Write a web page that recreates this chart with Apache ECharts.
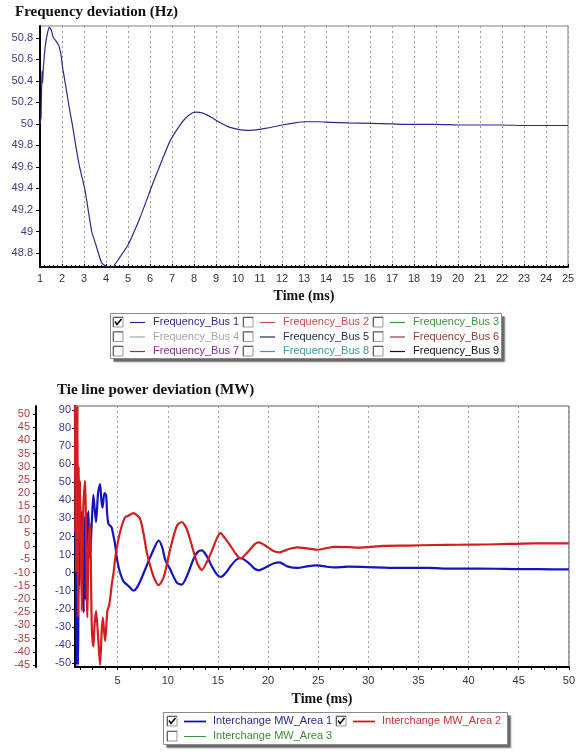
<!DOCTYPE html>
<html><head><meta charset="utf-8">
<script src="https://cdn.jsdelivr.net/npm/echarts@6/dist/echarts.min.js"></script>
<style>html,body{margin:0;padding:0;background:#fff}#c{width:578px;height:755px}</style>
</head><body><div id="c"></div>
<script>
// ---------- data ----------
const freqTime = [1.0,1.045,1.09,1.12,1.15,1.27,1.42,1.5,1.61,1.73,1.85,1.95,2.03,2.18,2.33,2.49,2.64,2.8,3.05,3.35,3.58,3.8,4.03,4.18,4.33,4.56,5.01,5.55,6.08,6.6,6.91,7.3,7.6,7.9,8.1,8.4,8.8,9.2,9.6,10.0,10.4,10.8,11.3,12.0,12.6,13.1,13.6,14.2,15.0,16.0,17.0,18.0,19.0,20.0,21.0,22.0,23.0,24.0,25.0];
const freqBus1 = [50.0,50.06,50.49,50.38,50.52,50.77,50.90,50.88,50.80,50.77,50.73,50.65,50.52,50.34,50.15,49.97,49.78,49.60,49.38,49.0,48.85,48.71,48.675,48.67,48.675,48.74,48.88,49.13,49.42,49.69,49.84,49.97,50.05,50.10,50.11,50.10,50.06,50.01,49.97,49.95,49.94,49.945,49.96,49.99,50.01,50.02,50.02,50.015,50.01,50.005,50.0,49.995,49.995,49.99,49.99,49.99,49.985,49.985,49.985];

const tieTimeA1 = [0.75,0.8,0.85,0.92,0.97,1.05,1.12,1.2,1.3,1.38,1.45,1.55,1.62,1.72,1.82,1.92,2.0,2.08,2.25,2.4,2.58,2.7,2.85,3.05,3.25,3.38,3.5,3.68,3.85,3.95,4.08,4.25,4.4,4.6,4.75,4.9,5.08,5.3,5.58,5.9,6.25,6.58,6.9,7.25,7.65,8.08,8.6,9.08,9.45,9.75,10.25,10.9,11.4,11.9,12.6,13.0,13.4,13.9,14.4,14.9,15.3,15.8,16.25,16.8,17.25,17.8,18.25,18.7,19.1,19.6,20.1,20.6,21.1,21.5,21.9,22.9,23.9,24.9,25.8,26.6,28,29.9,31.5,33.25,36,38.25,41,44.9,47,50];
const tieArea1 = [92,15,-5,-51,-21,-51,-5,-7,32,8,34,-8,-22,31,-15,33,10,34,8,25,43,36,28,44,49,40,36,44,43,33,27,26,25,20,15.5,9,3.5,-1,-4.8,-6.5,-8.3,-10,-8.5,-4.8,0.5,6.3,13,17.8,14,7,1.7,-5.5,-6.6,-2,8,11.5,12.3,9,3.5,-1,-2.4,0,3.5,7,8.1,6.5,4.4,2,1.3,2.5,3.9,5.2,5.7,4.8,3.5,2.6,3.5,4,3.3,2.9,3.3,3.1,2.8,2.6,2.6,2.2,2.3,2.0,1.9,1.8];

const tieTimeA2 = [0.75,0.78,0.82,0.86,0.9,0.95,1.0,1.05,1.12,1.2,1.25,1.42,1.58,1.75,1.98,2.1,2.25,2.42,2.58,2.7,2.85,3.08,3.25,3.4,3.52,3.75,3.98,4.18,4.42,4.6,4.75,5.08,5.42,5.75,6.08,6.55,6.9,7.25,7.6,7.9,8.25,8.6,9.08,9.6,10.25,10.9,11.4,11.9,12.6,13.0,13.4,13.9,14.4,14.9,15.25,15.7,16.25,16.8,17.25,17.8,18.25,18.7,19.1,19.6,20.1,20.6,21.1,21.6,22.1,22.9,23.9,24.9,25.8,26.6,28,29,31.6,34,36.6,39,41.6,44,46.6,50];
const tieArea2 = [53,5,53,-10,50,20,53,-27,30,5,24.7,-24.5,15,24.7,-27,0,8.3,-30,-38,-30,-24.5,-36,-45,-33,-27,-36,-24.5,-22,-14.4,-10,-4.9,2.6,7.7,10.9,11.5,12.5,11.8,10.2,4.5,-2.3,-7.5,-11.7,-14.8,-11.7,-1.1,7.6,9.1,6.4,-2.4,-7,-9,-6,-1.8,3,4.9,3,0.1,-3,-4.7,-3,-1.1,0.8,1.4,0.5,-0.8,-2,-2.4,-1.8,-1.1,-0.5,-0.9,-1.4,-0.8,-0.3,-0.4,-0.6,0.1,0.2,0.4,0.5,0.6,0.8,1.0,1.0];

// tick labels
const freqYTicks = [48.8,49,49.2,49.4,49.6,49.8,50,50.2,50.4,50.6,50.8];
const tieXTicks = [5,10,15,20,25,30,35,40,45,50];
const tieXMinor = [1.25,2.5,3.75,5,6.25,7.5,8.75,10,11.25,12.5,13.75,15,16.25,17.5,18.75,20,21.25,22.5,23.75,25,26.25,27.5,28.75,30,31.25,32.5,33.75,35,36.25,37.5,38.75,40,41.25,42.5,43.75,45,46.25,47.5,48.75,50];
const tieBlueTicks = [-50,-40,-30,-20,-10,0,10,20,30,40,50,60,70,80,90];
const tieRedTicks = [-45,-40,-35,-30,-25,-20,-15,-10,-5,0,5,10,15,20,25,30,35,40,45,50];

// legends
const freqLegendNames = ['Frequency_Bus 1','Frequency_Bus 2','Frequency_Bus 3','Frequency_Bus 4','Frequency_Bus 5','Frequency_Bus 6','Frequency_Bus 7','Frequency_Bus 8','Frequency_Bus 9'];
const freqLegendColors = ['#2b2b8c','#d24a4a','#3a9a3a','#a8a8a8','#24304c','#8c3c3c','#8c2c8c','#3c9c9c','#111111'];
const freqLegendChecked = [true,false,false,false,false,false,false,false,false];
const tieLegendNames = ['Interchange MW_Area 1','Interchange MW_Area 2','Interchange MW_Area 3'];
const tieLegendColors = ['#1414b4','#d21e1e','#3c963c'];
const tieLegendText = ['#2828a0','#c83232','#3c8c3c'];
const tieLegendChecked = [true,true,false];

const SANS = '"Liberation Sans", Arial, sans-serif';
const SERIF = '"Liberation Serif", "DejaVu Serif", serif';

function zip(a,b){return a.map((t,i)=>[t,b[i]]);}

// ---------- legend graphics ----------
const graphics = [];
function checkbox(x,y,checked){
  graphics.push({type:'rect',shape:{x:x,y:y,width:10,height:10},style:{fill:'#fff',stroke:'#9a9a9a',lineWidth:1}});
  graphics.push({type:'polyline',shape:{points:[[x+0.5,y+10],[x+0.5,y+0.5],[x+10,y+0.5]]},style:{stroke:'#606060',lineWidth:1,fill:null}});
  if(checked){
    graphics.push({type:'polyline',shape:{points:[[x+2,y+4.5],[x+4,y+7.5],[x+8.5,y+2]]},style:{stroke:'#000',lineWidth:1.6,fill:null}});
  }
}
function legendBox(x,y,w,h){
  graphics.push({type:'rect',shape:{x:x+3,y:y+3,width:w,height:h},style:{fill:'#6a6a6a',shadowBlur:2,shadowColor:'rgba(0,0,0,0.4)'}});
  graphics.push({type:'rect',shape:{x:x,y:y,width:w,height:h},style:{fill:'#fff',stroke:'#8a8a8a',lineWidth:1}});
}
// top legend
legendBox(110.5,313.5,391,45);
const fCols = [113,243,373], fRows = [322,336.5,351];
freqLegendNames.forEach((n,i)=>{
  const cx = fCols[i%3], cy = fRows[Math.floor(i/3)];
  checkbox(cx, cy-5, freqLegendChecked[i]);
  graphics.push({type:'line',shape:{x1:cx+17,y1:cy+0.5,x2:cx+32,y2:cy+0.5},style:{stroke:freqLegendColors[i],lineWidth:1.2}});
  graphics.push({type:'text',x:cx+40,y:cy,style:{text:n,fill:freqLegendColors[i],font:'11px '+SANS,verticalAlign:'middle',align:'left'}});
});
// bottom legend
legendBox(163.5,712.5,344,32);
const tCols = [167,336], tRows = [721,736];
tieLegendNames.forEach((n,i)=>{
  const cx = tCols[i%2], cy = tRows[Math.floor(i/2)];
  checkbox(cx, cy-5, tieLegendChecked[i]);
  graphics.push({type:'line',shape:{x1:cx+17,y1:cy+0.5,x2:cx+39,y2:cy+0.5},style:{stroke:tieLegendColors[i],lineWidth:i<2?1.8:1}});
  graphics.push({type:'text',x:cx+46,y:cy,style:{text:n,fill:tieLegendText[i],font:'11px '+SANS,verticalAlign:'middle',align:'left'}});
});

// ---------- chart ----------
const chart = echarts.init(document.getElementById('c'));
const gridLine = {show:true,lineStyle:{color:'#9a9a9a',type:[2,3],width:1}};
const option = {
  backgroundColor:'#fff',
  animation:false,
  title:[
    {text:'Frequency deviation (Hz)',left:10,top:0,textStyle:{fontFamily:SERIF,fontWeight:'bold',fontSize:15,color:'#111'}},
    {text:'Tie line power deviation (MW)',left:52,top:378,textStyle:{fontFamily:SERIF,fontWeight:'bold',fontSize:15,color:'#111'}}
  ],
  grid:[
    {left:40,right:10,top:26,height:241,show:true,borderColor:'#808080',borderWidth:1,backgroundColor:'transparent'},
    {left:75,right:9,top:406,height:261,show:true,borderColor:'#606060',borderWidth:1,backgroundColor:'transparent'}
  ],
  xAxis:[
    {type:'value',gridIndex:0,min:1,max:25,interval:1,
      axisLine:{show:true,onZero:false,lineStyle:{color:'#000',width:2}},
      axisTick:{show:true,inside:true,length:3,lineStyle:{color:'#000'}},
      minorTick:{show:true,splitNumber:5,length:2,lineStyle:{color:'#000'}},
      axisLabel:{color:'#333',fontFamily:SANS,fontSize:11,margin:6},
      splitLine:gridLine,
      name:'Time (ms)',nameLocation:'middle',nameGap:22,
      nameTextStyle:{fontFamily:SERIF,fontWeight:'bold',fontSize:14,color:'#111'}},
    {type:'value',gridIndex:1,min:0.75,max:50,
      axisLine:{show:true,onZero:false,lineStyle:{color:'#000',width:2}},
      axisTick:{show:true,length:3,customValues:tieXTicks,lineStyle:{color:'#000'}},
      axisLabel:{color:'#333',fontFamily:SANS,fontSize:11,margin:8,customValues:tieXTicks},
      splitLine:gridLine,
      name:'Time (ms)',nameLocation:'middle',nameGap:25,
      nameTextStyle:{fontFamily:SERIF,fontWeight:'bold',fontSize:14,color:'#111'}},
    {type:'value',gridIndex:1,min:0.75,max:50,position:'bottom',
      axisLine:{show:false,onZero:false},
      axisTick:{show:true,length:3,customValues:tieXMinor,lineStyle:{color:'#000'}},
      axisLabel:{show:false},splitLine:{show:false}}
  ],
  yAxis:[
    {type:'value',gridIndex:0,min:48.67,max:50.91,
      axisLine:{show:true,onZero:false,lineStyle:{color:'#000',width:2}},
      axisTick:{show:true,length:4,customValues:freqYTicks,lineStyle:{color:'#000'}},
      axisLabel:{color:'#3c3c8c',fontFamily:SANS,fontSize:11,margin:7,customValues:freqYTicks},
      splitLine:{show:false}},
    {type:'value',gridIndex:1,min:-52.2,max:92.2,position:'left',
      axisLine:{show:true,onZero:false,lineStyle:{color:'#000',width:2}},
      axisTick:{show:true,length:3,customValues:tieBlueTicks,lineStyle:{color:'#000'}},
      axisLabel:{color:'#3c3c8c',fontFamily:SANS,fontSize:11,margin:4,customValues:tieBlueTicks},
      splitLine:{show:false}},
    {type:'value',gridIndex:1,min:-45.76,max:53.0,position:'left',offset:39,
      axisLine:{show:true,onZero:false,lineStyle:{color:'#000',width:2}},
      axisTick:{show:true,length:3,customValues:tieRedTicks,lineStyle:{color:'#000'}},
      axisLabel:{color:'#b43c3c',fontFamily:SANS,fontSize:11,margin:6,customValues:tieRedTicks},
      splitLine:{show:false}}
  ],
  series:[
    {name:'Frequency_Bus 1',type:'line',xAxisIndex:0,yAxisIndex:0,data:zip(freqTime,freqBus1),
      showSymbol:false,smooth:0.15,lineStyle:{color:'#2b2b8c',width:1.2}},
    {name:'Interchange MW_Area 1',type:'line',xAxisIndex:1,yAxisIndex:1,data:zip(tieTimeA1,tieArea1),
      showSymbol:false,smooth:0.25,lineStyle:{color:'#1414c0',width:2.2}},
    {name:'Interchange MW_Area 2',type:'line',xAxisIndex:1,yAxisIndex:2,data:zip(tieTimeA2,tieArea2),
      showSymbol:false,smooth:0.25,lineStyle:{color:'#d21e1e',width:2.2}}
  ],
  graphic:graphics
};
chart.setOption(option);
</script></body></html>
